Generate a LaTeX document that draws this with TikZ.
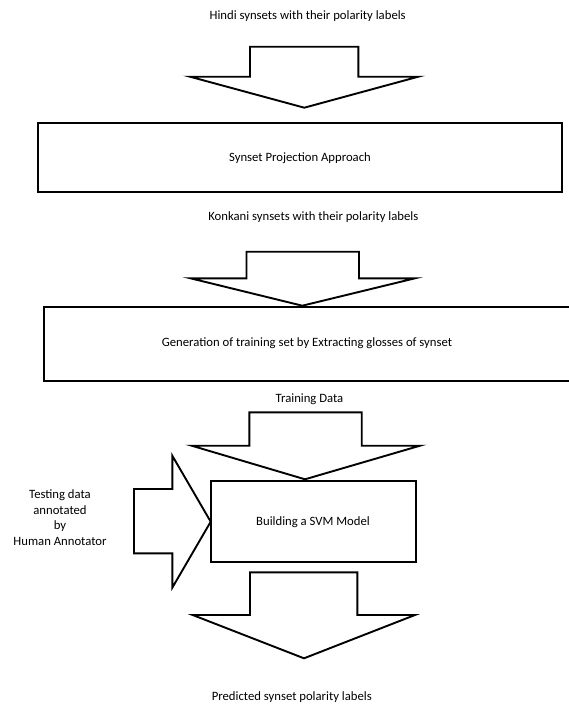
\documentclass[tikz,border=0pt]{standalone}
\usepackage{fontspec}
\setmainfont{Carlito}
\begin{document}
\begin{tikzpicture}[x=1pt,y=-1pt,line width=1.9pt,
  txt/.style={font=\fontsize{12.7}{15.5}\selectfont, inner sep=0pt, align=center},
  stepbox/.style={draw, line width=1.9pt, inner sep=0pt, outer sep=0pt,
    font=\fontsize{12.7}{15.5}\selectfont},
  blockarrow/.style={draw, line width=1.9pt, fill=white}]
\useasboundingbox (0,0) rectangle (569,704);

% texts
\node[txt] (hindi) at (307.7,16) {Hindi synsets with their polarity labels};
\node[txt] (konkani) at (313.3,217.3) {Konkani synsets with their polarity labels};
\node[txt] (train) at (309.5,399) {Training Data};
\node[txt] (pred) at (291.8,697) {Predicted synset polarity labels};
\node[txt] (testing) at (60,517.5) {Testing data\\annotated\\by\\Human Annotator};

% boxes
\node[stepbox, minimum width=524.6pt, minimum height=69pt] (proj) at (300,157.8) {Synset Projection Approach};
\node[stepbox, minimum width=526.7pt, minimum height=74pt] (gen) at (307.65,343.7) {};
\node[txt] (gentext) at (307,342.7) {Generation of training set by Extracting glosses of synset};
\node[stepbox, minimum width=205pt, minimum height=81.3pt] (svm) at (313.2,521.7) {};
\node[txt] (svmtext) at (313,522.3) {Building a SVM Model};

% block arrows
\draw[blockarrow] (250,46.7) -- (358.3,46.7) -- (358.3,76.7) -- (418.3,76.7)
  -- (304.3,107.7) -- (190,76.7) -- (250,76.7) -- cycle;
\draw[blockarrow] (246.5,251.7) -- (359,251.7) -- (359,278.3) -- (415,278.3)
  -- (302.3,305.7) -- (190.5,278.3) -- (246.5,278.3) -- cycle;
\draw[blockarrow] (249.3,412.3) -- (361.7,412.3) -- (361.7,445.7) -- (420,445.7)
  -- (305,479.3) -- (191.7,445.7) -- (249.3,445.7) -- cycle;
\draw[blockarrow] (250,572.3) -- (357.3,572.3) -- (357.3,615) -- (415,615)
  -- (304,658.3) -- (192.7,615) -- (250,615) -- cycle;
% left arrow
\draw[blockarrow] (134,489) -- (172.3,489) -- (172.3,455.7) -- (svm.west)
  -- (172.3,587.7) -- (172.3,553.3) -- (134,553.3) -- cycle;
\end{tikzpicture}
\end{document}
